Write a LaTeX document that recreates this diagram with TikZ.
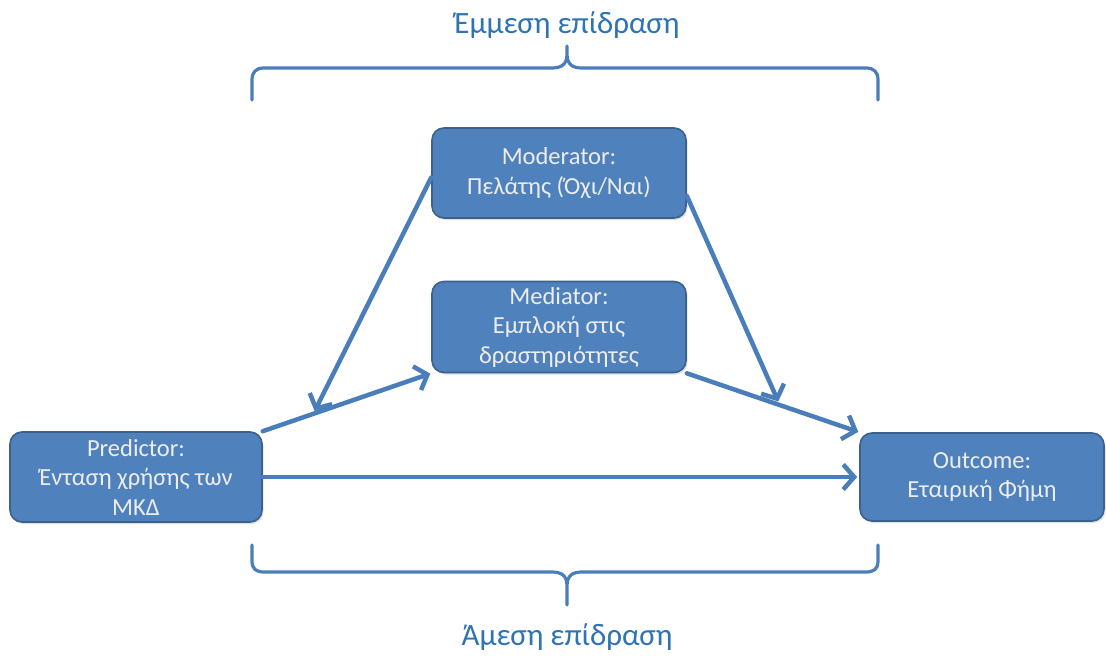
\documentclass[tikz,border=0pt]{standalone}
\usepackage{fontspec}
\setmainfont{Carlito}
\usetikzlibrary{arrows.meta,calc,shadows}
\definecolor{boxfill}{HTML}{4F81BD}
\definecolor{boxedge}{HTML}{3A6190}
\definecolor{linkblue}{HTML}{4A7EBB}
\definecolor{labelblue}{HTML}{2E74B5}
\begin{document}
\begin{tikzpicture}[x=1pt,y=-1pt,
  varbox/.style={draw=boxedge, line width=1.6pt, fill=boxfill, rounded corners=12pt,
    minimum width=254pt, minimum height=90pt, inner sep=0pt, align=center,
    text=white!93!black, font=\fontsize{24.5}{29.5}\selectfont,
    drop shadow={opacity=0.25, shadow xshift=1.5pt, shadow yshift=-2pt}},
  link/.style={draw=linkblue, line width=4.5pt, line cap=round,
    -{Straight Barb[length=11pt,width=25pt]}},
  bracepath/.style={draw=linkblue, line width=3.2pt, line cap=round, line join=round},
  effect/.style={text=labelblue, font=\fontsize{31}{35}\selectfont, inner sep=0pt}]

\fill[white] (0,0) rectangle (1106,661);
\useasboundingbox (0,0) rectangle (1106,661);

% variables of the model
\node[varbox] (mod) at (559,173) {Moderator:\\Πελάτης (Όχι/Ναι)};
\node[varbox, minimum height=91pt] (med) at (559,327) {Mediator:\\Εμπλοκή στις\\δραστηριότητες};
\node[varbox, minimum width=252pt] (pred) at (136,477) {Predictor:\\Ένταση χρήσης των\\ΜΚΔ};
\node[varbox, minimum width=244pt, minimum height=88pt] (out) at (982,477) {Outcome:\\Εταιρική Φήμη};

% paths between the variables
\draw[link, shorten >=1pt] (pred.north east) -- (med.south west);
\draw[link, shorten >=1pt] (med.south east) -- (out.north west);
\draw[link, shorten >=2pt] (pred.east) -- (out.west);

% moderator acting on the two indirect paths
\coordinate (hitA) at ($(pred.north east)!0.3!(med.south west)$);
\coordinate (hitB) at ($(med.south east)!0.54!(out.north west)$);
\coordinate (modL) at ($(mod.north west)!0.55!(mod.south west)$);
\coordinate (modR) at ($(mod.north east)!0.75!(mod.south east)$);
\draw[link, shorten >=3pt] (modL) -- (hitA);
\draw[link, shorten >=4pt] (modR) -- (hitB);

% upper brace: indirect effect
\draw[bracepath] (252,100) -- (252,80) .. controls (252,72) and (256,68) .. (264,68)
  -- (552,68) .. controls (562,68) and (567,64) .. (567,54) -- (567,46)
  (567,54) .. controls (567,64) and (572,68) .. (582,68)
  -- (866,68) .. controls (874,68) and (878,72) .. (878,80) -- (878,100);
\node[effect] (indirect) at (567,25) {Έμμεση επίδραση};

% lower brace: direct effect
\draw[bracepath] (252,545) -- (252,561) .. controls (252,569) and (256,572) .. (264,572)
  -- (552,572) .. controls (562,572) and (567,576) .. (567,586) -- (567,605)
  (567,586) .. controls (567,576) and (572,572) .. (582,572)
  -- (866,572) .. controls (874,572) and (878,569) .. (878,561) -- (878,545);
\node[effect] (direct) at (567,637) {Άμεση επίδραση};
\end{tikzpicture}
\end{document}
